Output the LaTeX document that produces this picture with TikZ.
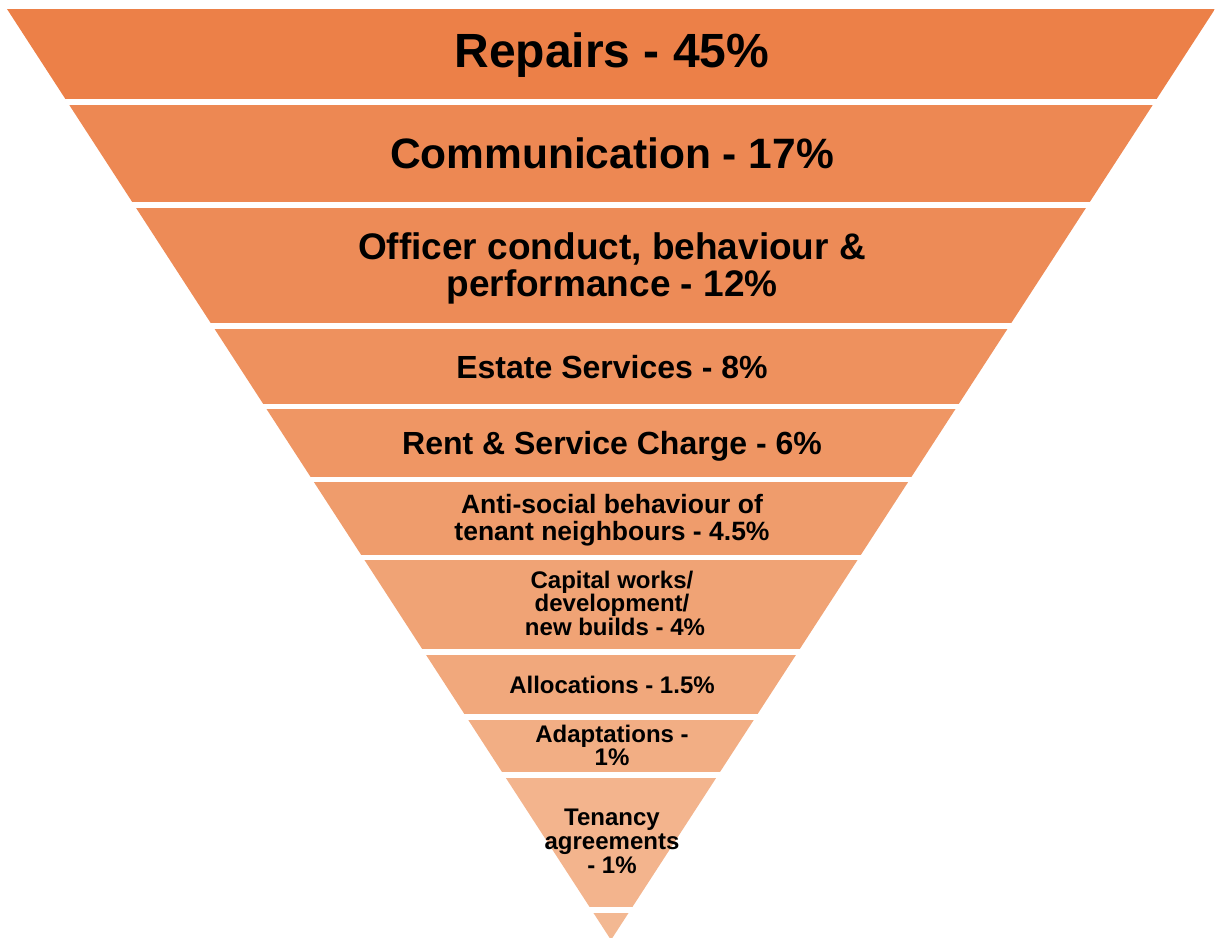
\documentclass[tikz,border=0pt]{standalone}
\usepackage{fontspec}
\setmainfont{Liberation Sans}
% band fills, darkest at the wide top, lightest at the tip
\definecolor{b1}{RGB}{236,128,72}
\definecolor{b2}{RGB}{237,136,83}
\definecolor{b3}{RGB}{237,139,87}
\definecolor{b4}{RGB}{238,145,94}
\definecolor{b5}{RGB}{239,150,100}
\definecolor{b6}{RGB}{239,156,108}
\definecolor{b7}{RGB}{240,163,117}
\definecolor{b8}{RGB}{241,168,124}
\definecolor{b9}{RGB}{242,174,132}
\definecolor{b10}{RGB}{243,180,141}
\definecolor{b11}{RGB}{243,184,146}
\begin{document}
\begin{tikzpicture}[x=1pt,y=-1pt,
  lbl/.style={anchor=base, inner sep=0pt, text=black,
    font=\bfseries\fontsize{#1}{#1}\selectfont}]
\useasboundingbox (0,0) rectangle (1215,937);
% inverted triangle cut into horizontal bands
\begin{scope}
  \clip (7,9) -- (1215,9) -- (611,940) -- cycle;
  \fill[b1]  (0,9)   rectangle (1215,99);
  \fill[b2]  (0,105) rectangle (1215,202);
  \fill[b3]  (0,208) rectangle (1215,323);
  \fill[b4]  (0,329) rectangle (1215,404);
  \fill[b5]  (0,409) rectangle (1215,477);
  \fill[b6]  (0,482) rectangle (1215,555);
  \fill[b7]  (0,560) rectangle (1215,649);
  \fill[b8]  (0,655) rectangle (1215,714);
  \fill[b9]  (0,720) rectangle (1215,772);
  \fill[b10] (0,778) rectangle (1215,907);
  \fill[b11] (0,913) rectangle (1215,945);
\end{scope}
% labels, one node per printed line
\node[lbl=48] (t1) at (612,67) {Repairs - 45\%};
\node[lbl=42.5] (t2) at (612,168) {Communication - 17\%};
\node[lbl=37] (t3a) at (612,259) {Officer conduct, behaviour \&};
\node[lbl=37] (t3b) at (612,296) {performance - 12\%};
\node[lbl=32] (t4) at (612,378) {Estate Services - 8\%};
\node[lbl=32] (t5) at (612,454) {Rent \& Service Charge - 6\%};
\node[lbl=26.5] (t6a) at (612,513) {Anti-social behaviour of};
\node[lbl=26.5] (t6b) at (612,540) {tenant neighbours - 4.5\%};
\node[lbl=24] (t7a) at (612,588) {Capital works/};
\node[lbl=24] (t7b) at (612,611) {development/};
\node[lbl=24] (t7c) at (615,635) {new builds - 4\%};
\node[lbl=24] (t8) at (612,693) {Allocations - 1.5\%};
\node[lbl=24] (t9a) at (612,742) {Adaptations -};
\node[lbl=24] (t9b) at (612,765) {1\%};
\node[lbl=24] (t10a) at (612,825) {Tenancy};
\node[lbl=24] (t10b) at (612,849) {agreements};
\node[lbl=24] (t10c) at (612,873) {- 1\%};
\end{tikzpicture}
\end{document}
